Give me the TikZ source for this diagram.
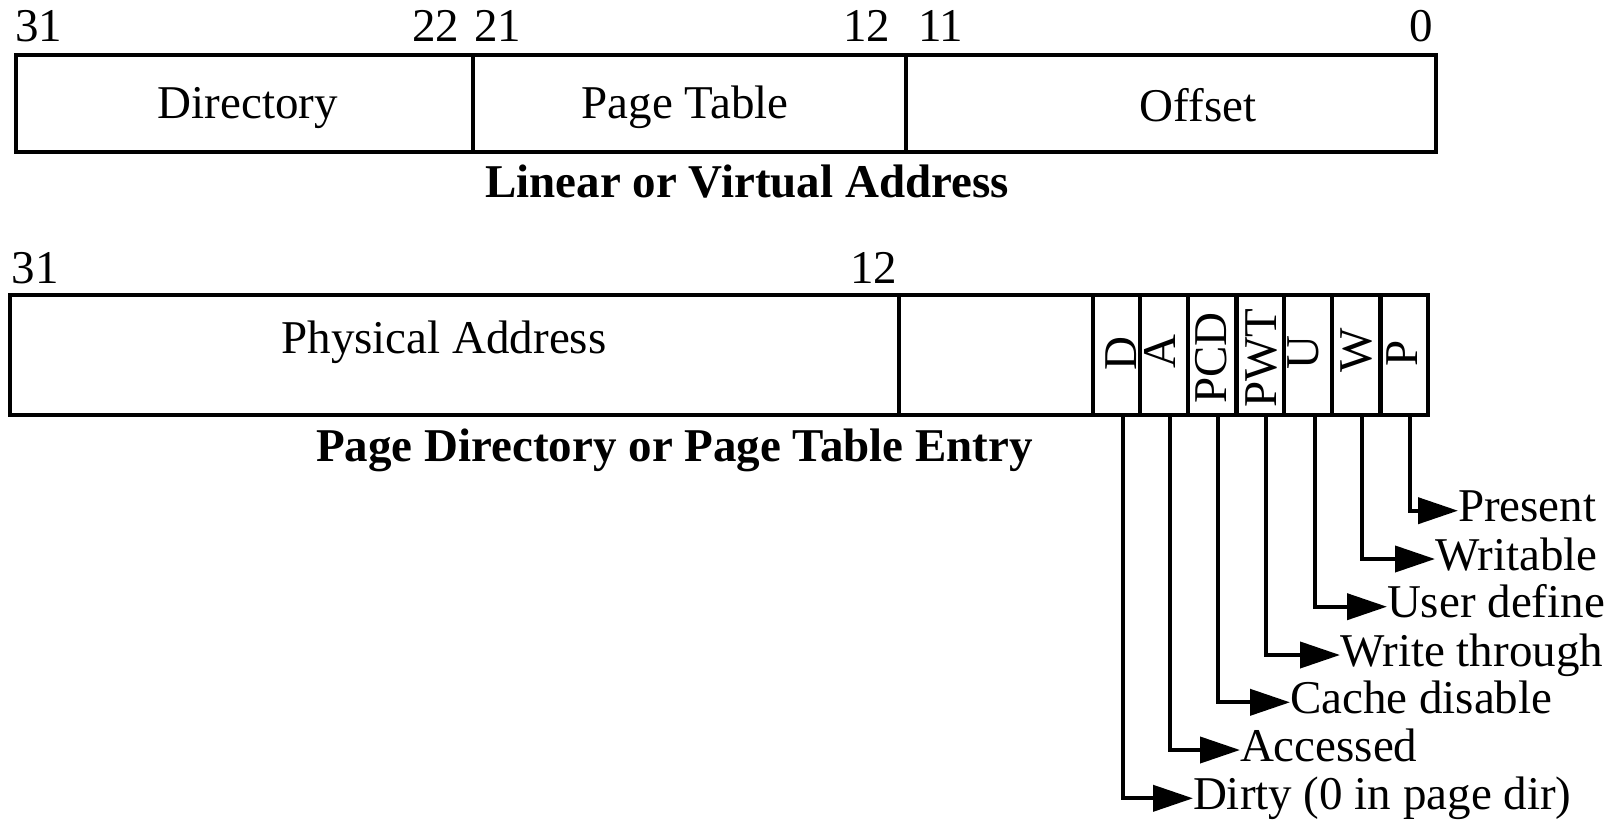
\documentclass[tikz,border=0pt]{standalone}
\usepackage{fontspec}
\setmainfont{Liberation Serif}
\usetikzlibrary{arrows.meta}
\begin{document}
\begin{tikzpicture}[x=1pt,y=-1pt,
  field/.style={draw, line width=4.3pt, inner sep=0pt, outer sep=0pt, anchor=north west},
  txt/.style={inner sep=0pt, outer sep=0pt, font=\fontsize{47}{56}\selectfont},
  ttl/.style={inner sep=0pt, outer sep=0pt, font=\fontsize{47}{56}\selectfont\bfseries},
  bitlbl/.style={txt, rotate=90},
  conn/.style={line width=4pt, -{Triangle[length=40pt,width=26pt]}},
]
\useasboundingbox (0,0) rectangle (1614,820);

% ---- Linear / virtual address ----
\node[field, minimum width=457pt, minimum height=96.7pt] (fdir) at (16,55) {};
\node[field, minimum width=433pt, minimum height=96.7pt] (fpt)  at (473,55) {};
\node[field, minimum width=530pt, minimum height=96.7pt] (foff) at (906,55) {};

\node[txt, anchor=base west] (n31a) at (15,41.5) {31};
\node[txt, anchor=base east] (n22)  at (459,41.5) {22};
\node[txt, anchor=base west] (n21)  at (474,41.5) {21};
\node[txt, anchor=base east] (n12a) at (890,41.5) {12};
\node[txt, anchor=base west] (n11)  at (918,41.5) {11};
\node[txt, anchor=base east] (n0)   at (1433,41.5) {0};

\node[txt, anchor=base] (ldir) at (248,118) {Directory};
\node[txt, anchor=base] (lpt)  at (685,118) {Page Table};
\node[txt, anchor=base] (loff) at (1198,121) {Offset};
\node[ttl, anchor=base] (tlin) at (747,197) {Linear or Virtual Address};

% ---- Page directory / page table entry ----
\node[field, minimum width=889pt,   minimum height=120pt] (fpa)  at (10,295) {};
\node[field, minimum width=194pt,   minimum height=120pt] (fnil) at (899,295) {};
\node[field, minimum width=47pt,    minimum height=120pt] (fD)   at (1093,295) {};
\node[field, minimum width=48pt,    minimum height=120pt] (fA)   at (1140,295) {};
\node[field, minimum width=48.5pt,  minimum height=120pt] (fPCD) at (1188,295) {};
\node[field, minimum width=47.5pt,  minimum height=120pt] (fPWT) at (1236.5,295) {};
\node[field, minimum width=48pt,    minimum height=120pt] (fU)   at (1284,295) {};
\node[field, minimum width=48.5pt,  minimum height=120pt] (fW)   at (1332,295) {};
\node[field, minimum width=47.5pt,  minimum height=120pt] (fP)   at (1380.5,295) {};

\node[txt, anchor=base west] (n31b) at (12,283) {31};
\node[txt, anchor=base east] (n12b) at (897,283) {12};
\node[txt, anchor=base] (lpa) at (444,353) {Physical Address};
\node[ttl, anchor=base] (tpde) at (674.5,461.5) {Page Directory or Page Table Entry};

\node[bitlbl] (bD)   at (1121,354) {D};
\node[bitlbl] (bA)   at (1160,352) {A};
\node[bitlbl] (bPCD) at (1211,358) {PCD};
\node[bitlbl] (bPWT) at (1261,358) {PWT};
\node[bitlbl] (bU)   at (1303,353) {U};
\node[bitlbl] (bW)   at (1356,350) {W};
\node[bitlbl] (bP)   at (1402,353) {P};

% ---- flag descriptions ----
\coordinate (tP)   at (1458,510.7);
\coordinate (tW)   at (1435,559);
\coordinate (tU)   at (1387,606.7);
\coordinate (tPWT) at (1340,655);
\coordinate (tPCD) at (1290,702.3);
\coordinate (tA)   at (1240,750);
\coordinate (tD)   at (1193,798.3);

\node[txt, anchor=base west] (lP)   at (1458,521.7) {Present};
\node[txt, anchor=base west] (lW)   at (1435,570)   {Writable};
\node[txt, anchor=base west] (lU)   at (1387,617.7) {User define};
\node[txt, anchor=base west] (lPWT) at (1340,666)   {Write through};
\node[txt, anchor=base west] (lPCD) at (1290,713.3) {Cache disable};
\node[txt, anchor=base west] (lA)   at (1240,761)   {Accessed};
\node[txt, anchor=base west] (lD)   at (1193,809)   {Dirty (0 in page dir)};

\draw[conn] ([xshift=6pt]fP.south)   |- (tP);
\draw[conn] ([xshift=6pt]fW.south)   |- (tW);
\draw[conn] ([xshift=7pt]fU.south)   |- (tU);
\draw[conn] ([xshift=6pt]fPWT.south) |- (tPWT);
\draw[conn] ([xshift=6pt]fPCD.south) |- (tPCD);
\draw[conn] ([xshift=6pt]fA.south)   |- (tA);
\draw[conn] ([xshift=6pt]fD.south)   |- (tD);
\end{tikzpicture}
\end{document}
